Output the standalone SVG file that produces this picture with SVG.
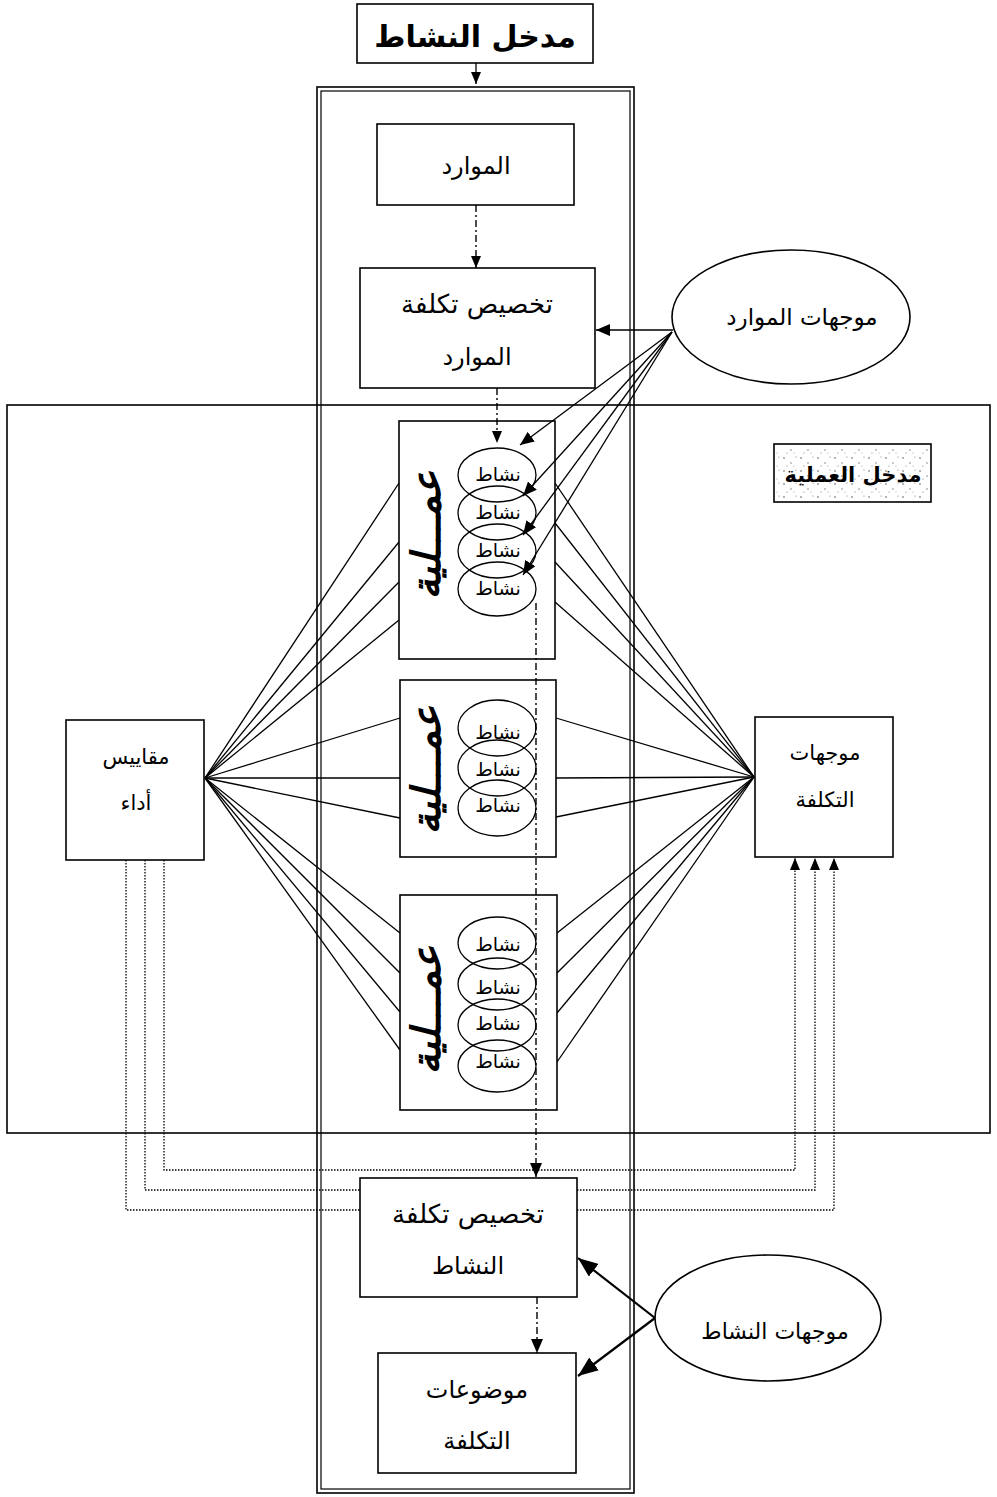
<svg xmlns="http://www.w3.org/2000/svg" width="997" height="1497" viewBox="0 0 997 1497">
<style>
.box{fill:#fff;stroke:#000;stroke-width:1.6}
.nb{fill:none;stroke:#000;stroke-width:1.6}
.el{fill:none;stroke:#000;stroke-width:1.3}
.t{font-family:"DejaVu Sans",sans-serif;font-size:24px;text-anchor:middle;fill:#000}
.ts{font-family:"DejaVu Sans",sans-serif;font-size:19px;text-anchor:middle;fill:#000}
.cal{font-family:"DejaVu Sans",sans-serif;font-size:40px;font-weight:bold;font-style:italic;text-anchor:middle;dominant-baseline:central;fill:#000}
.ln{stroke:#000;stroke-width:1.3;fill:none}
.lnb{stroke:#000;stroke-width:2.2;fill:none}
.dash{stroke:#000;stroke-width:1.4;fill:none;stroke-dasharray:7,3,2,3}
.dot{stroke:#000;stroke-width:1.3;fill:none;stroke-dasharray:1.5,1.5}
</style>
<defs>
<marker id="ah" markerUnits="userSpaceOnUse" markerWidth="14" markerHeight="12" refX="14" refY="6" orient="auto"><path d="M0,0 L14,6 L0,12 z" fill="#000"/></marker>
<marker id="ahs" markerUnits="userSpaceOnUse" markerWidth="12" markerHeight="10" refX="12" refY="5" orient="auto"><path d="M0,0 L12,5 L0,10 z" fill="#000"/></marker>
<marker id="ahb" markerUnits="userSpaceOnUse" markerWidth="20" markerHeight="16" refX="20" refY="8" orient="auto"><path d="M0,0 L20,8 L0,16 z" fill="#000"/></marker>
<pattern id="spk" width="17" height="13" patternUnits="userSpaceOnUse">
<circle cx="2" cy="3" r="0.8" fill="#555"/><circle cx="9" cy="8" r="0.7" fill="#666"/><circle cx="14" cy="2" r="0.6" fill="#777"/><circle cx="5" cy="11" r="0.6" fill="#777"/><circle cx="12" cy="11" r="0.5" fill="#888"/>
</pattern>
</defs>
<rect width="997" height="1497" fill="#fff"/>

<g id="frame-process">
<rect x="7" y="405" width="983" height="728" class="nb"/>
</g>
<g id="frame-activity">
<rect x="317" y="87" width="317" height="1406" class="nb"/>
<rect x="321" y="91" width="309" height="1398" class="nb" style="stroke-width:1.2"/>
</g>

<g id="connectors">
<line x1="205" y1="778" x2="399" y2="483" class="ln"/>
<line x1="205" y1="778" x2="399" y2="542" class="ln"/>
<line x1="205" y1="778" x2="399" y2="582" class="ln"/>
<line x1="205" y1="778" x2="399" y2="620" class="ln"/>
<line x1="205" y1="778" x2="400" y2="718" class="ln"/>
<line x1="205" y1="778" x2="400" y2="778" class="ln"/>
<line x1="205" y1="778" x2="400" y2="818" class="ln"/>
<line x1="205" y1="778" x2="400" y2="933" class="ln"/>
<line x1="205" y1="778" x2="400" y2="973" class="ln"/>
<line x1="205" y1="778" x2="400" y2="1012" class="ln"/>
<line x1="205" y1="778" x2="400" y2="1050" class="ln"/>
<line x1="555" y1="483" x2="754" y2="777" class="ln"/>
<line x1="555" y1="523" x2="754" y2="777" class="ln"/>
<line x1="555" y1="562" x2="754" y2="777" class="ln"/>
<line x1="555" y1="602" x2="754" y2="777" class="ln"/>
<line x1="556" y1="718" x2="754" y2="777" class="ln"/>
<line x1="556" y1="778" x2="754" y2="777" class="ln"/>
<line x1="556" y1="817" x2="754" y2="777" class="ln"/>
<line x1="557" y1="933" x2="754" y2="777" class="ln"/>
<line x1="557" y1="973" x2="754" y2="777" class="ln"/>
<line x1="557" y1="1013" x2="754" y2="777" class="ln"/>
<line x1="557" y1="1062" x2="754" y2="777" class="ln"/>
<path d="M164,860 V1170 H795 V858" class="dot" marker-end="url(#ahs)"/>
<path d="M145,860 V1190 H360 M577,1190 H815 V858" class="dot" marker-end="url(#ahs)"/>
<path d="M126,860 V1210 H360 M577,1210 H834 V858" class="dot" marker-end="url(#ahs)"/>
</g>

<g id="n-activity-input">
<rect x="357" y="4" width="236" height="59" class="box"/>
<text x="475" y="47" class="t" style="font-size:30px;font-weight:bold">مدخل النشاط</text>
</g>
<g id="n-resources">
<rect x="377" y="124" width="197" height="81" class="box"/>
<text x="476" y="174" class="t">الموارد</text>
</g>
<g id="n-resource-alloc">
<rect x="360" y="268" width="235" height="120" class="box"/>
<text x="477" y="313" class="t" style="font-size:26px">تخصيص تكلفة</text>
<text x="477" y="365" class="t">الموارد</text>
</g>
<g id="n-resource-drivers">
<ellipse cx="791" cy="317" rx="119" ry="67" class="box"/>
<text x="802" y="325" class="t" style="font-size:23px">موجهات الموارد</text>
</g>
<g id="n-process-label">
<rect x="774" y="444" width="157" height="58" class="box"/>
<rect x="776" y="446" width="153" height="54" fill="url(#spk)"/>
<text x="853" y="482" class="t" style="font-size:21px;font-weight:bold">مدخل العملية</text>
</g>
<g id="n-process1">
<rect x="399" y="421" width="156" height="238" class="box"/>
<text class="cal" transform="translate(426,535) rotate(-90)">عمـــلية</text>
<ellipse cx="497" cy="475" rx="39" ry="27" class="el"/>
<ellipse cx="497" cy="513" rx="39" ry="27" class="el"/>
<ellipse cx="497" cy="551" rx="39" ry="27" class="el"/>
<ellipse cx="497" cy="589" rx="39" ry="27" class="el"/>
<text x="498" y="481" class="ts">نشاط</text>
<text x="498" y="519" class="ts">نشاط</text>
<text x="498" y="557" class="ts">نشاط</text>
<text x="498" y="595" class="ts">نشاط</text>
</g>
<g id="n-process2">
<rect x="400" y="680" width="156" height="177" class="box"/>
<text class="cal" transform="translate(426,770) rotate(-90)">عمـــلية</text>
<ellipse cx="497" cy="728" rx="39" ry="28" class="el"/>
<ellipse cx="497" cy="768" rx="39" ry="28" class="el"/>
<ellipse cx="497" cy="808" rx="39" ry="28" class="el"/>
<text x="498" y="739" class="ts">نشاط</text>
<text x="498" y="776" class="ts">نشاط</text>
<text x="498" y="812" class="ts">نشاط</text>
</g>
<g id="n-process3">
<rect x="400" y="895" width="157" height="215" class="box"/>
<text class="cal" transform="translate(426,1010) rotate(-90)">عمـــلية</text>
<ellipse cx="497" cy="943" rx="39" ry="26" class="el"/>
<ellipse cx="497" cy="984" rx="39" ry="26" class="el"/>
<ellipse cx="497" cy="1025" rx="39" ry="26" class="el"/>
<ellipse cx="497" cy="1066" rx="39" ry="26" class="el"/>
<text x="498" y="951" class="ts">نشاط</text>
<text x="498" y="994" class="ts">نشاط</text>
<text x="498" y="1030" class="ts">نشاط</text>
<text x="498" y="1068" class="ts">نشاط</text>
</g>
<g id="n-performance">
<rect x="66" y="720" width="138" height="140" class="box"/>
<text x="136" y="764" class="t" style="font-size:21px">مقاييس</text>
<text x="136" y="810" class="t" style="font-size:21px">أداء</text>
</g>
<g id="n-cost-drivers">
<rect x="755" y="717" width="138" height="140" class="box"/>
<text x="825" y="760" class="t" style="font-size:21px">موجهات</text>
<text x="825" y="807" class="t" style="font-size:21px">التكلفة</text>
</g>
<g id="n-activity-alloc">
<rect x="360" y="1178" width="217" height="119" class="box"/>
<text x="468" y="1223" class="t" style="font-size:26px">تخصيص تكلفة</text>
<text x="468" y="1274" class="t">النشاط</text>
</g>
<g id="n-cost-objects">
<rect x="378" y="1353" width="198" height="120" class="box"/>
<text x="477" y="1398" class="t">موضوعات</text>
<text x="477" y="1449" class="t">التكلفة</text>
</g>
<g id="n-activity-drivers">
<ellipse cx="768" cy="1318" rx="113" ry="63" class="box"/>
<text x="775" y="1339" class="t" style="font-size:22px">موجهات النشاط</text>
</g>

<g id="connectors-over">
<line x1="476" y1="63" x2="476" y2="84" class="ln" marker-end="url(#ahs)"/>
<line x1="476" y1="205" x2="476" y2="268" class="dash" marker-end="url(#ahs)"/>
<line x1="497" y1="388" x2="497" y2="443" class="dash" marker-end="url(#ahs)"/>
<line x1="536" y1="603" x2="536" y2="1177" class="dash" marker-end="url(#ah)"/>
<line x1="537" y1="1297" x2="537" y2="1353" class="dash" marker-end="url(#ah)"/>
<line x1="673" y1="330" x2="596" y2="330" class="ln" marker-end="url(#ah)"/>
<line x1="672" y1="332" x2="520" y2="445" class="ln" marker-end="url(#ah)"/>
<line x1="672" y1="332" x2="523" y2="496" class="ln" marker-end="url(#ah)"/>
<line x1="672" y1="332" x2="523" y2="535" class="ln" marker-end="url(#ah)"/>
<line x1="672" y1="332" x2="523" y2="575" class="ln" marker-end="url(#ah)"/>
<line x1="655" y1="1318" x2="578" y2="1258" class="lnb" marker-end="url(#ahb)"/>
<line x1="655" y1="1318" x2="578" y2="1376" class="lnb" marker-end="url(#ahb)"/>
</g>
</svg>
